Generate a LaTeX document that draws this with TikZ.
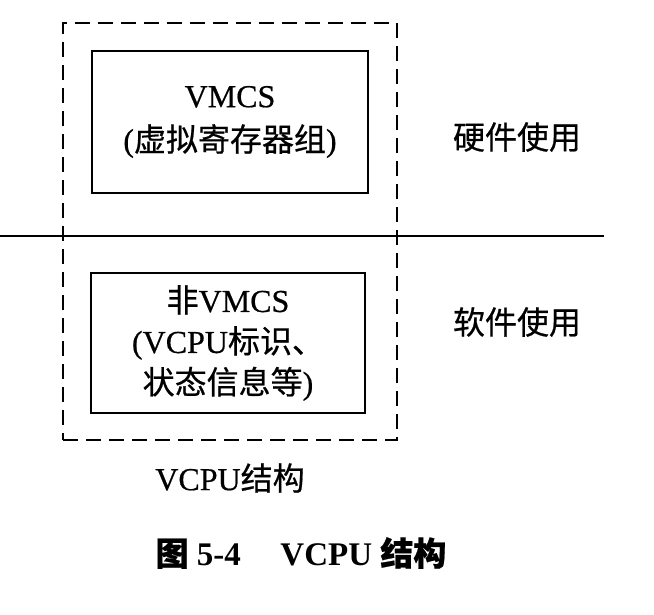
\documentclass[tikz,border=0pt]{standalone}
\usepackage{fontspec}
\setmainfont[UprightFeatures={FakeBold=0.5}]{Liberation Serif}
\newfontfamily\cjk[FakeBold=0.6]{Noto Sans CJK SC}
\begin{document}
\begin{tikzpicture}[x=1pt,y=-1pt,
  every node/.style={inner sep=0pt, font=\fontsize{32}{44}\selectfont},
  regbox/.style={draw, line width=1.8pt, align=center},
  outerbox/.style={draw, line width=2pt, dash pattern=on 15pt off 8pt},
  sidelabel/.style={font=\fontsize{32}{38}\selectfont\cjk}]
\useasboundingbox (0,0) rectangle (654,614);
\node[outerbox, minimum width=334pt, minimum height=417pt] (outer) at (230,231.5) {};
\node[regbox, minimum width=276pt, minimum height=142pt] (vmcs) at (230,122)
  {VMCS\\({\cjk 虚拟寄存器组})};
\node[regbox, minimum width=274pt, minimum height=140pt, font=\fontsize{32}{41}\selectfont] (nonvmcs) at (228,343)
  {{\cjk 非}VMCS\\(VCPU{\cjk 标识、}\\{\cjk 状态信息等})};
\coordinate (lineL) at (0,236);
\coordinate (lineR) at (604,236);
\draw[line width=1.8pt] (lineL) -- (lineR);
\node[sidelabel] (hw) at (517,137) {硬件使用};
\node[sidelabel] (sw) at (517,322) {软件使用};
\node (title) at (230,478) {VCPU{\cjk 结构}};
\node[font=\fontsize{33}{38}\selectfont\bfseries] (caption) at (301,553)
  {{\cjk\bfseries 图} 5-4\hspace{1.2em}VCPU {\cjk\bfseries 结构}};
\end{tikzpicture}
\end{document}
